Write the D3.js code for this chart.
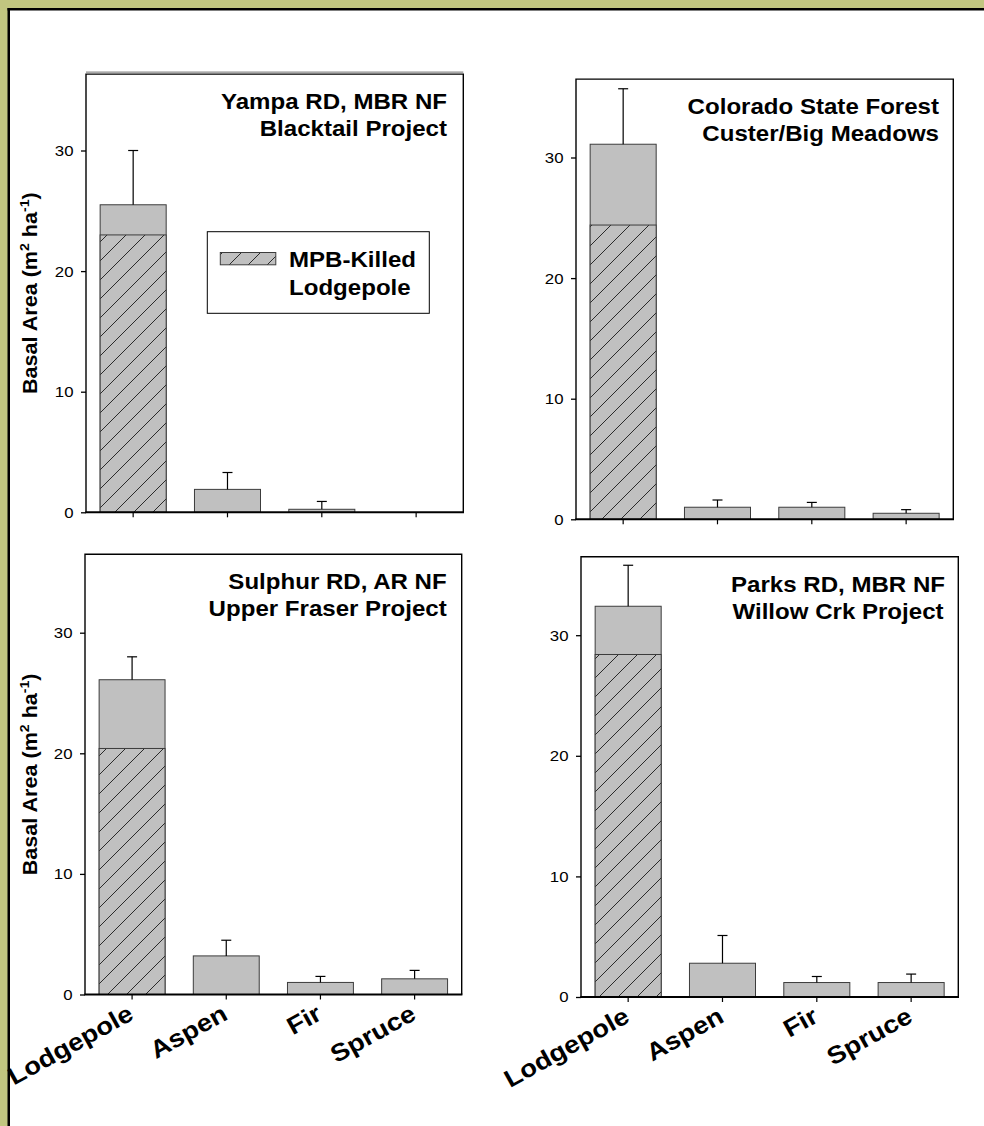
<!DOCTYPE html>
<html>
<head>
<meta charset="utf-8">
<script src="https://cdn.jsdelivr.net/npm/d3@7"></script>
<style>
  html, body { margin: 0; padding: 0; background: #fff; overflow: hidden; }
  svg { display: block; }
</style>
</head>
<body>
<svg id="fig" width="984" height="1126"></svg>
<script>
// ---- data -------------------------------------------------------------
const species = ["Lodgepole", "Aspen", "Fir", "Spruce"];

const siteTitles = [
  ["Yampa RD, MBR NF", "Blacktail Project"],
  ["Colorado State Forest", "Custer/Big Meadows"],
  ["Sulphur RD, AR NF", "Upper Fraser Project"],
  ["Parks RD, MBR NF", "Willow Crk Project"]
];

// mean basal area (m2/ha) per species, one row per site
const totalBasalArea = [
  [25.5, 1.9, 0.25, 0.0],
  [31.1, 1.0, 1.0, 0.5],
  [26.1, 3.2, 1.0, 1.3],
  [32.4, 2.8, 1.2, 1.2]
];

// portion of the lodgepole basal area killed by mountain pine beetle
const killedLodgepole = [23.0, 24.4, 20.4, 28.4];

// upper standard error, one row per site
const upperError = [
  [4.5, 1.4, 0.65, 0.0],
  [4.6, 0.6, 0.4, 0.3],
  [1.9, 1.3, 0.5, 0.7],
  [3.4, 2.3, 0.5, 0.7]
];

const yTicks = [0, 10, 20, 30];
const yMax = 36.5;
const legendLines = ["MPB-Killed", "Lodgepole"];

// ---- layout -----------------------------------------------------------
const W = 984, H = 1126;
const PX_PER_UNIT = 12.06;
const SX = 1.12;                      // wide lettering
const FONT = "'Liberation Sans', Arial, Helvetica, sans-serif";
const BAR_FILL = "#c0c0c0";
const BAR_STROKE = "#3c3c3c";

const panels = [
  { left: 86,  right: 463.3, zero: 512.3, yLabel: true,  xLabels: false, legend: true,
    doubleTop: true, titleX: 447, titleAnchor: "end" },
  { left: 576, right: 953.3, zero: 519.3, yLabel: false, xLabels: false,
    titleX: 939, titleAnchor: "end" },
  { left: 85,  right: 461.7, zero: 994.5, yLabel: true,  xLabels: true,
    titleX: 446.7, titleAnchor: "end" },
  { left: 581, right: 958.3, zero: 997,   yLabel: false, xLabels: true,
    titleX: 838, titleAnchor: "middle" }
];

const svg = d3.select("#fig");

// page background with its border strip
svg.append("rect").attr("width", W).attr("height", H).attr("fill", "#c1c680");
svg.append("rect").attr("x", 8).attr("y", 9).attr("width", W).attr("height", H).attr("fill", "#fff");
svg.append("rect").attr("x", 7.5).attr("y", 8).attr("width", W).attr("height", 2.5).attr("fill", "#000");
svg.append("rect").attr("x", 7.5).attr("y", 8).attr("width", 2.5).attr("height", H).attr("fill", "#000");

// diagonal hatch used for the beetle-killed portion
const defs = svg.append("defs");
const hatch = defs.append("pattern")
  .attr("id", "hatch")
  .attr("patternUnits", "userSpaceOnUse")
  .attr("width", 19).attr("height", 19);
hatch.append("rect").attr("width", 19).attr("height", 19).attr("fill", BAR_FILL);
hatch.append("path")
  .attr("d", "M-1,20 L20,-1 M-5,5 L5,-5 M14,24 L24,14")
  .attr("stroke", "#2a2a2a").attr("stroke-width", 1).attr("fill", "none");

// text drawn with a horizontal stretch along its own baseline
function stretchedText(parent, x, y, rotate, anchor, size, weight, sx) {
  const g = parent.append("g")
    .attr("transform", `translate(${x},${y}) rotate(${rotate}) scale(${sx || SX},1)`);
  return g.append("text")
    .attr("text-anchor", anchor)
    .attr("font-family", FONT)
    .attr("font-size", size)
    .attr("font-weight", weight)
    .attr("fill", "#000");
}

panels.forEach((p, i) => {
  const g = svg.append("g");
  const y = d3.scaleLinear().domain([0, yMax]).range([p.zero, p.zero - yMax * PX_PER_UNIT]);
  const x = d3.scaleBand().domain(species).range([p.left, p.right])
    .paddingInner(0.3).paddingOuter(0.15);
  const top = p.doubleTop ? y(yMax) + 2 : y(yMax);

  // bars: whole stand, then the killed share of lodgepole on top
  const rows = species.map((s, j) => ({
    s, total: totalBasalArea[i][j], err: upperError[i][j]
  }));

  g.selectAll("rect.total").data(rows.filter(d => d.total > 0)).join("rect")
    .attr("class", "total")
    .attr("x", d => x(d.s)).attr("width", x.bandwidth())
    .attr("y", d => y(d.total)).attr("height", d => y(0) - y(d.total))
    .attr("fill", BAR_FILL).attr("stroke", BAR_STROKE).attr("stroke-width", 1);

  g.append("rect")
    .attr("x", x("Lodgepole")).attr("width", x.bandwidth())
    .attr("y", y(killedLodgepole[i])).attr("height", y(0) - y(killedLodgepole[i]))
    .attr("fill", "url(#hatch)").attr("stroke", BAR_STROKE).attr("stroke-width", 1);

  // upper error bars
  const eb = g.selectAll("g.err").data(rows.filter(d => d.err > 0)).join("g").attr("class", "err");
  eb.append("line")
    .attr("x1", d => x(d.s) + x.bandwidth() / 2).attr("x2", d => x(d.s) + x.bandwidth() / 2)
    .attr("y1", d => y(d.total)).attr("y2", d => y(d.total + d.err))
    .attr("stroke", "#000").attr("stroke-width", 1.2);
  eb.append("line")
    .attr("x1", d => x(d.s) + x.bandwidth() / 2 - 5).attr("x2", d => x(d.s) + x.bandwidth() / 2 + 5)
    .attr("y1", d => y(d.total + d.err)).attr("y2", d => y(d.total + d.err))
    .attr("stroke", "#000").attr("stroke-width", 1.2);

  // frame
  if (p.doubleTop) {
    g.append("line").attr("x1", p.left).attr("x2", p.right)
      .attr("y1", y(yMax)).attr("y2", y(yMax))
      .attr("stroke", "#8c8c8c").attr("stroke-width", 1.3);
  }
  g.append("path")
    .attr("d", `M${p.left},${p.zero} L${p.left},${top} L${p.right},${top} L${p.right},${p.zero}`)
    .attr("fill", "none").attr("stroke", "#000").attr("stroke-width", 1.4);

  // y axis ticks and labels
  const yAxis = d3.axisLeft(y).tickValues(yTicks).tickSize(5).tickFormat("");
  const ya = g.append("g").attr("transform", `translate(${p.left},0)`).call(yAxis);
  ya.select(".domain").remove();
  ya.selectAll(".tick line").attr("stroke", "#000").attr("stroke-width", 1.3);
  yTicks.forEach(t => {
    stretchedText(g, p.left - 12.5, y(t) + 5.4, 0, "end", 15, "normal").text(t);
  });

  // x axis line with ticks at the bar centres
  const xAxis = d3.axisBottom(x).tickSize(5).tickSizeOuter(0).tickFormat("");
  const xa = g.append("g").attr("transform", `translate(0,${p.zero})`).call(xAxis);
  xa.select(".domain").remove();
  xa.selectAll(".tick line").attr("stroke", "#000").attr("stroke-width", 1.2);
  g.append("line").attr("x1", p.left - 0.7).attr("x2", p.right + 0.7)
    .attr("y1", p.zero).attr("y2", p.zero)
    .attr("stroke", "#000").attr("stroke-width", 2);

  if (p.xLabels) {
    species.forEach(s => {
      stretchedText(g, x(s) + x.bandwidth() / 2 + 3, p.zero + 24, -29, "end", 24.5, "bold").text(s);
    });
  }

  if (p.yLabel) {
    const t = stretchedText(g, 37, (top + p.zero) / 2, -90, "middle", 20, "bold", 1.08);
    t.append("tspan").text("Basal Area (m");
    t.append("tspan").attr("dy", -8).attr("font-size", 13).text("2");
    t.append("tspan").attr("dy", 8).text(" ha");
    t.append("tspan").attr("dy", -8).attr("font-size", 13).text("-1");
    t.append("tspan").attr("dy", 8).text(")");
  }

  // site title
  siteTitles[i].forEach((line, k) => {
    stretchedText(g, p.titleX, top + 35 + k * 27, 0, p.titleAnchor, 21.5, "bold").text(line);
  });

  if (p.legend) {
    const lg = g.append("g");
    lg.append("rect").attr("x", 207.3).attr("y", 231.7).attr("width", 222).attr("height", 81.6)
      .attr("fill", "#fff").attr("stroke", "#000").attr("stroke-width", 1);
    lg.append("rect").attr("x", 220.3).attr("y", 252.5).attr("width", 55.5).attr("height", 12.3)
      .attr("fill", "url(#hatch)").attr("stroke", BAR_STROKE).attr("stroke-width", 1);
    legendLines.forEach((line, k) => {
      stretchedText(lg, 289, 266.8 + k * 28, 0, "start", 21.5, "bold").text(line);
    });
  }
});
</script>
</body>
</html>
